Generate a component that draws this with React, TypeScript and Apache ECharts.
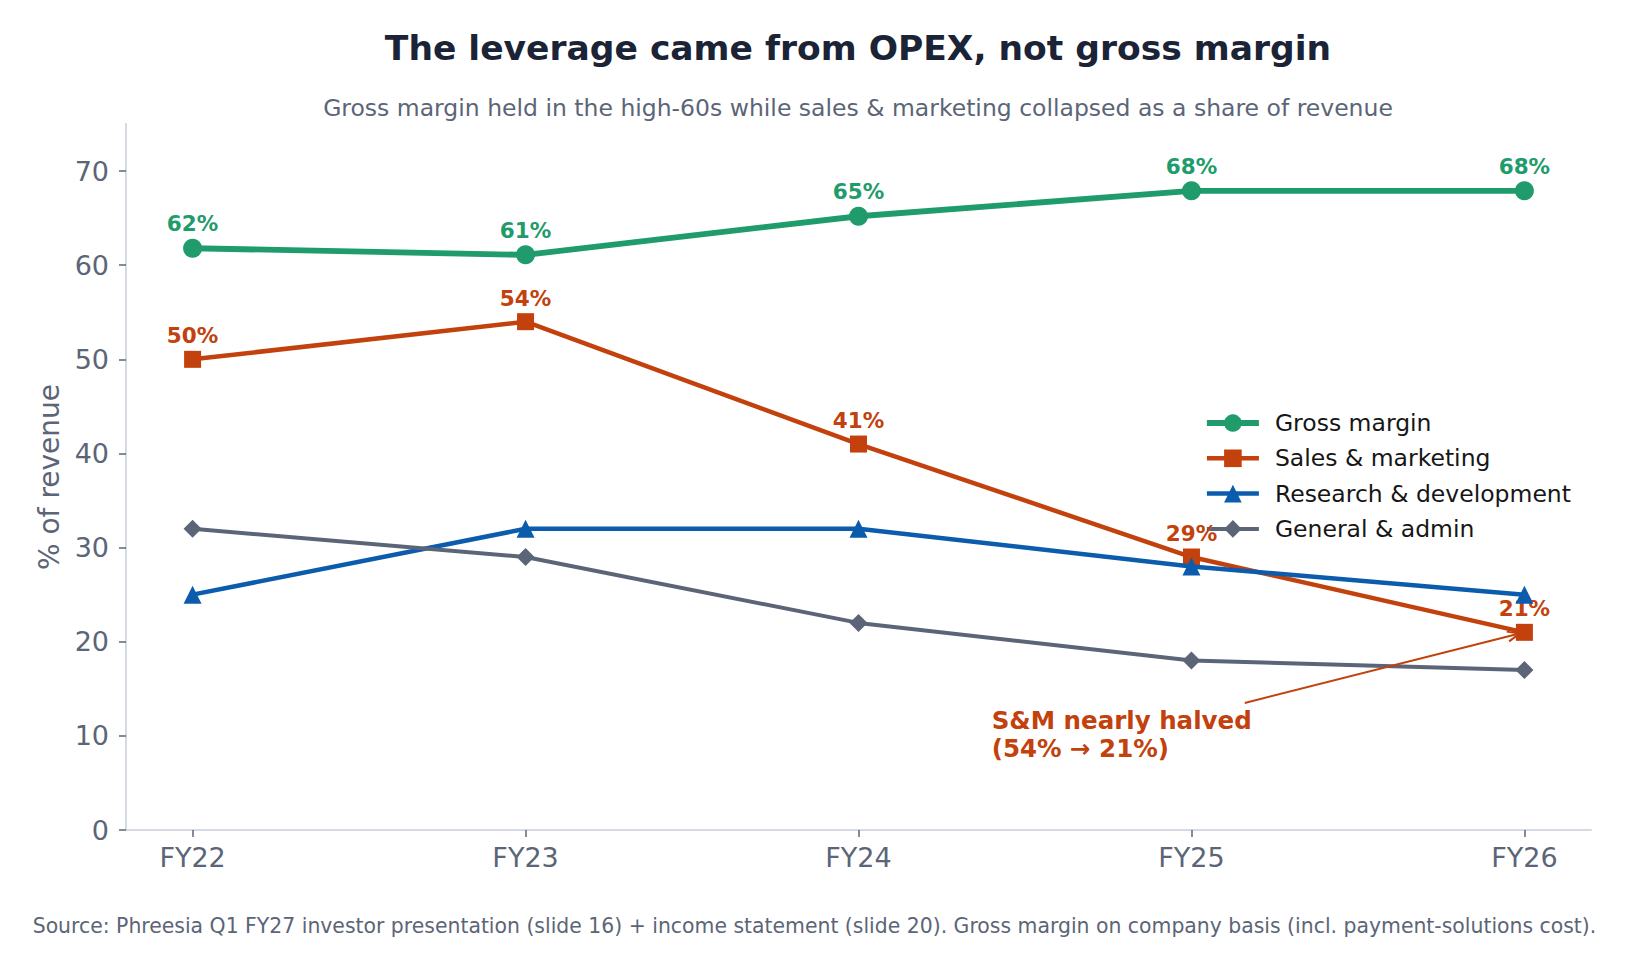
import React, { useEffect, useRef } from 'react';
import * as echarts from 'echarts';

// Fiscal years on the x axis
const categories = ['FY22', 'FY23', 'FY24', 'FY25', 'FY26'];

// Each line as % of revenue
const grossMargin = [61.8, 61.1, 65.2, 67.9, 67.9];
const salesMarketing = [50, 54, 41, 29, 21];
const researchDev = [25, 32, 32, 28, 25];
const generalAdmin = [32, 29, 22, 18, 17];

const yTicks = [0, 10, 20, 30, 40, 50, 60, 70];

// Callout on the S&M line (data coordinates)
const calloutText = 'S&M nearly halved\n(54% → 21%)';
const calloutAt = [2.4, 8];
const arrowFrom = [3.16, 13.5];
const arrowTo = [categories.length - 1, salesMarketing[salesMarketing.length - 1]];

const FONT = '"DejaVu Sans", "Noto Sans", sans-serif';
const SLATE = '#5b6577';

const C_GM = '#1f9b6c';
const C_SM = '#c2410c';
const C_RD = '#0b5cad';
const C_GA = '#5b6577';

const W_GM = 5.8;
const W_SM = 4.5;
const W_RD = 4.5;
const W_GA = 4;

const toPairs = (vals: number[]) => vals.map((v, i) => [i, v]);

export default function App() {
  const ref = useRef<HTMLDivElement>(null);

  useEffect(() => {
    if (!ref.current) return;
    const chart = echarts.init(ref.current, undefined, { renderer: 'svg' });

    const valueLabel = (color: string) => ({
      show: true,
      position: 'top',
      distance: 4,
      color,
      fontFamily: FONT,
      fontWeight: 'bold',
      fontSize: 21.5,
      formatter: (p: any) => `${Math.round(p.value[1])}%`,
    });

    const option: any = {
      animation: false,
      backgroundColor: '#ffffff',
      grid: { left: 126, right: 38, top: 124, bottom: 137, containLabel: false },
      xAxis: {
        type: 'value',
        min: -0.2,
        max: 4.2,
        splitLine: { show: false },
        axisLine: { show: true, onZero: false, lineStyle: { color: '#d4d9e3', width: 2 } },
        axisTick: {
          show: true,
          customValues: categories.map((_, i) => i),
          length: 7,
          lineStyle: { color: SLATE, width: 1.5 },
        },
        axisLabel: {
          customValues: categories.map((_, i) => i),
          formatter: (v: number) => (Number.isInteger(v) ? categories[v] ?? '' : ''),
          color: SLATE,
          fontFamily: FONT,
          fontSize: 27,
          margin: 14,
        },
      },
      yAxis: {
        type: 'value',
        min: 0,
        max: 75,
        name: '% of revenue',
        nameLocation: 'middle',
        nameGap: 62,
        nameRotate: 90,
        nameTextStyle: { color: SLATE, fontFamily: FONT, fontSize: 28 },
        splitLine: { show: false },
        axisLine: { show: true, onZero: false, lineStyle: { color: '#d4d9e3', width: 2 } },
        axisTick: {
          show: true,
          customValues: yTicks,
          length: 7,
          lineStyle: { color: SLATE, width: 1.5 },
        },
        axisLabel: {
          customValues: yTicks,
          color: SLATE,
          fontFamily: FONT,
          fontSize: 27,
          margin: 17,
        },
      },
      legend: {
        orient: 'vertical',
        left: 1199,
        top: 406,
        itemWidth: 52,
        itemHeight: 22,
        itemGap: 11.3,
        textStyle: { color: '#161616', fontFamily: FONT, fontSize: 23.5, padding: [0, 0, 0, 11] },
        data: [
          { name: 'Gross margin', lineStyle: { width: W_GM } },
          { name: 'Sales & marketing', lineStyle: { width: W_SM } },
          { name: 'Research & development', lineStyle: { width: W_RD } },
          { name: 'General & admin', lineStyle: { width: W_GA } },
        ],
      },
      series: [
        {
          name: 'Gross margin',
          type: 'line',
          data: toPairs(grossMargin),
          color: C_GM,
          lineStyle: { width: W_GM, color: C_GM },
          symbol: 'circle',
          symbolSize: 19,
          itemStyle: { color: C_GM },
          label: valueLabel(C_GM),
          z: 3,
        },
        {
          name: 'Sales & marketing',
          type: 'line',
          data: toPairs(salesMarketing),
          color: C_SM,
          lineStyle: { width: W_SM, color: C_SM },
          symbol: 'rect',
          symbolSize: 17,
          itemStyle: { color: C_SM },
          label: valueLabel(C_SM),
          z: 4,
        },
        {
          name: 'Research & development',
          type: 'line',
          data: toPairs(researchDev),
          color: C_RD,
          lineStyle: { width: W_RD, color: C_RD },
          symbol: 'triangle',
          symbolSize: 18,
          itemStyle: { color: C_RD },
          z: 5,
        },
        {
          name: 'General & admin',
          type: 'line',
          data: toPairs(generalAdmin),
          color: C_GA,
          lineStyle: { width: W_GA, color: C_GA },
          symbol: 'diamond',
          symbolSize: [18, 18],
          itemStyle: { color: C_GA },
          z: 6,
        },
      ],
    };

    chart.setOption(option);

    // Callout arrow and text placed through the axes' own scales
    const px = (pt: number[]) => chart.convertToPixel({ gridIndex: 0 }, pt) as number[];
    const a = px(arrowFrom);
    const b = px(arrowTo);
    const dx = b[0] - a[0];
    const dy = b[1] - a[1];
    const len = Math.hypot(dx, dy);
    const ux = dx / len;
    const uy = dy / len;
    const shrink = 5;
    const tip = [b[0] - ux * shrink, b[1] - uy * shrink];
    const headL = 12;
    const headW = 5;
    const base = [tip[0] - ux * headL, tip[1] - uy * headL];
    const nx = -uy;
    const ny = ux;
    const t = px(calloutAt);

    chart.setOption({
      graphic: [
        {
          type: 'text',
          x: 858,
          y: 48,
          style: {
            text: 'The leverage came from OPEX, not gross margin',
            textAlign: 'center',
            textVerticalAlign: 'middle',
            fontFamily: FONT,
            fontWeight: 'bold',
            fontSize: 34.5,
            fill: '#1b2336',
          },
        },
        {
          type: 'text',
          x: 858,
          y: 108,
          style: {
            text: 'Gross margin held in the high-60s while sales & marketing collapsed as a share of revenue',
            textAlign: 'center',
            textVerticalAlign: 'middle',
            fontFamily: FONT,
            fontSize: 23.5,
            fill: SLATE,
          },
        },
        {
          type: 'text',
          x: 814.5,
          y: 926,
          style: {
            text: 'Source: Phreesia Q1 FY27 investor presentation (slide 16) + income statement (slide 20). Gross margin on company basis (incl. payment-solutions cost).',
            textAlign: 'center',
            textVerticalAlign: 'middle',
            fontFamily: FONT,
            fontSize: 20.4,
            fill: SLATE,
          },
        },
        {
          type: 'line',
          shape: { x1: a[0], y1: a[1], x2: tip[0], y2: tip[1] },
          style: { stroke: C_SM, lineWidth: 2 },
          z: 10,
        },
        {
          type: 'polyline',
          shape: {
            points: [
              [base[0] + nx * headW, base[1] + ny * headW],
              tip,
              [base[0] - nx * headW, base[1] - ny * headW],
            ],
          },
          style: { stroke: C_SM, lineWidth: 2, fill: 'none' },
          z: 10,
        },
        {
          type: 'text',
          x: t[0],
          y: t[1] + 8,
          style: {
            text: calloutText,
            textAlign: 'left',
            textVerticalAlign: 'bottom',
            fontFamily: FONT,
            fontWeight: 'bold',
            fontSize: 24.5,
            lineHeight: 28,
            fill: C_SM,
          },
          z: 10,
        },
      ],
    });

    return () => chart.dispose();
  }, []);

  return (
    <div
      ref={ref}
      style={{ position: 'fixed', left: 0, top: 0, width: 1629, height: 967, background: '#fff' }}
    />
  );
}
